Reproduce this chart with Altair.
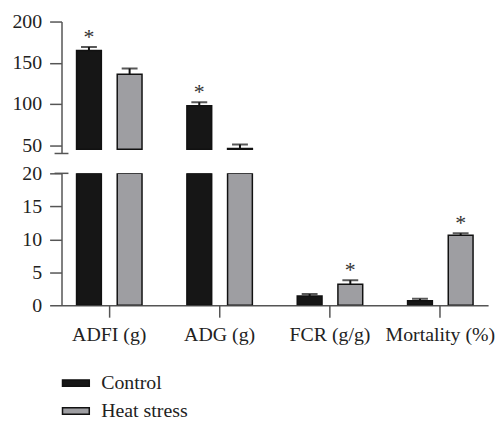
import altair as alt
import pandas as pd

categories = ["ADFI (g)", "ADG (g)", "FCR (g/g)", "Mortality (%)"]
groups = ["Control", "Heat stress"]
control_mean = [165, 98, 1.4, 0.7]
control_err = [4, 4, 0.3, 0.3]
heat_mean = [136, 46, 3.2, 10.6]
heat_err = [7, 5, 0.6, 0.3]
control_sig = [1, 1, 0, 0]
heat_sig = [0, 0, 1, 1]

upper_ticks = [50, 100, 150, 200]
lower_ticks = [0, 5, 10, 15, 20]
upper_domain = [40, 200]
lower_domain = [0, 20]
upper_base = 45
colors = ["#161616", "#9e9ea2"]

rows = []
for i, c in enumerate(categories):
    for g, m, e, s in [("Control", control_mean[i], control_err[i], control_sig[i]),
                       ("Heat stress", heat_mean[i], heat_err[i], heat_sig[i])]:
        rows.append({"category": c, "group": g, "mean": m, "top": m + e,
                     "low": min(m, lower_domain[1]), "sig": s})
df = pd.DataFrame(rows)

FONT = "'Liberation Serif', 'Times New Roman', serif"
AX = "#555555"
W = 430
H = 133
P_IN, P_OUT = 0.404, 0.135
half_band = W / (len(categories) - P_IN + 2 * P_OUT) * (1 - P_IN) / 2
OFFSETS = {"Control": half_band - 20.5, "Heat stress": half_band + 20.5}

legend = alt.Legend(title=None, orient="none", legendX=0, legendY=350,
                    labelFont=FONT, labelFontSize=20, labelColor="#222",
                    labelOffset=11, rowPadding=3,
                    symbolType="M-1,-0.24H1V0.24H-1Z", symbolSize=729,
                    symbolStrokeColor="#111", symbolStrokeWidth=1.5)


def panel(domain, ticks, upper):
    ysc = alt.Scale(domain=domain, nice=False, zero=False)
    yax = alt.Axis(values=ticks, title=None, labelPadding=8, labelOverlap=False)
    xa = alt.X("category:N", sort=categories,
               scale=alt.Scale(domain=categories, paddingInner=P_IN, paddingOuter=P_OUT),
               axis=None if upper else alt.Axis(title=None, labelAngle=0, labelPadding=8))
    col = alt.Color("group:N", sort=groups,
                    scale=alt.Scale(domain=groups, range=colors), legend=legend)
    if upper:
        bar_flt = f"datum.mean > {upper_base}"
        err_flt = f"datum.top > {domain[0]}"
        yfield = "mean:Q"
        base_val = upper_base
    else:
        bar_flt = "true"
        err_flt = f"datum.mean < {domain[1]}"
        yfield = "low:Q"
        base_val = 0
    layers = []
    for g in groups:
        off = OFFSETS[g]
        d = alt.Chart(df).transform_filter(alt.datum.group == g)
        layers.append(d.transform_filter(bar_flt).mark_bar(
            clip=True, width=25, stroke="#111", strokeWidth=1.5).encode(
            x=xa, xOffset=alt.value(off),
            y=alt.Y(yfield, scale=ysc, axis=yax),
            y2=alt.datum(base_val), color=col))
        layers.append(d.transform_filter(err_flt).mark_rule(
            clip=True, color="#111", strokeWidth=2).encode(
            x=xa, xOffset=alt.value(off),
            y=alt.Y("mean:Q", scale=ysc, axis=yax), y2="top:Q"))
        layers.append(d.transform_filter(err_flt).mark_tick(
            clip=True, color="#111", orient="horizontal", size=16, thickness=2).encode(
            x=xa, xOffset=alt.value(off),
            y=alt.Y("top:Q", scale=ysc, axis=yax)))
        layers.append(d.transform_filter(err_flt).transform_filter("datum.sig == 1").mark_text(
            text="*", font=FONT, fontSize=22, color="#333", baseline="alphabetic", dy=-3).encode(
            x=xa, xOffset=alt.value(off),
            y=alt.Y("top:Q", scale=ysc, axis=yax)))
    brk_df = pd.DataFrame({"k": [0]})
    layers.append(alt.Chart(brk_df).mark_rule(color=AX, strokeWidth=1.5).encode(
        x=alt.value(-7), x2=alt.value(7), y=alt.value(H if upper else 0)))
    return alt.layer(*layers).properties(width=W, height=H)


upper = panel(upper_domain, upper_ticks, True)
lower = panel(lower_domain, lower_ticks, False)

chart = alt.vconcat(upper, lower, spacing=20, bounds="flush").properties(
    padding={"left": 12, "top": 10, "right": 5, "bottom": 5}
).configure_view(stroke=None).configure_axis(
    domainColor=AX, domainWidth=1.5, tickColor=AX, tickWidth=1.5, tickSize=12,
    labelFont=FONT, labelFontSize=20, labelColor="#222", grid=False
).configure_legend(
    labelFont=FONT, labelFontSize=20
)

chart.save("out.html", embed_options={"renderer": "svg", "actions": False})
